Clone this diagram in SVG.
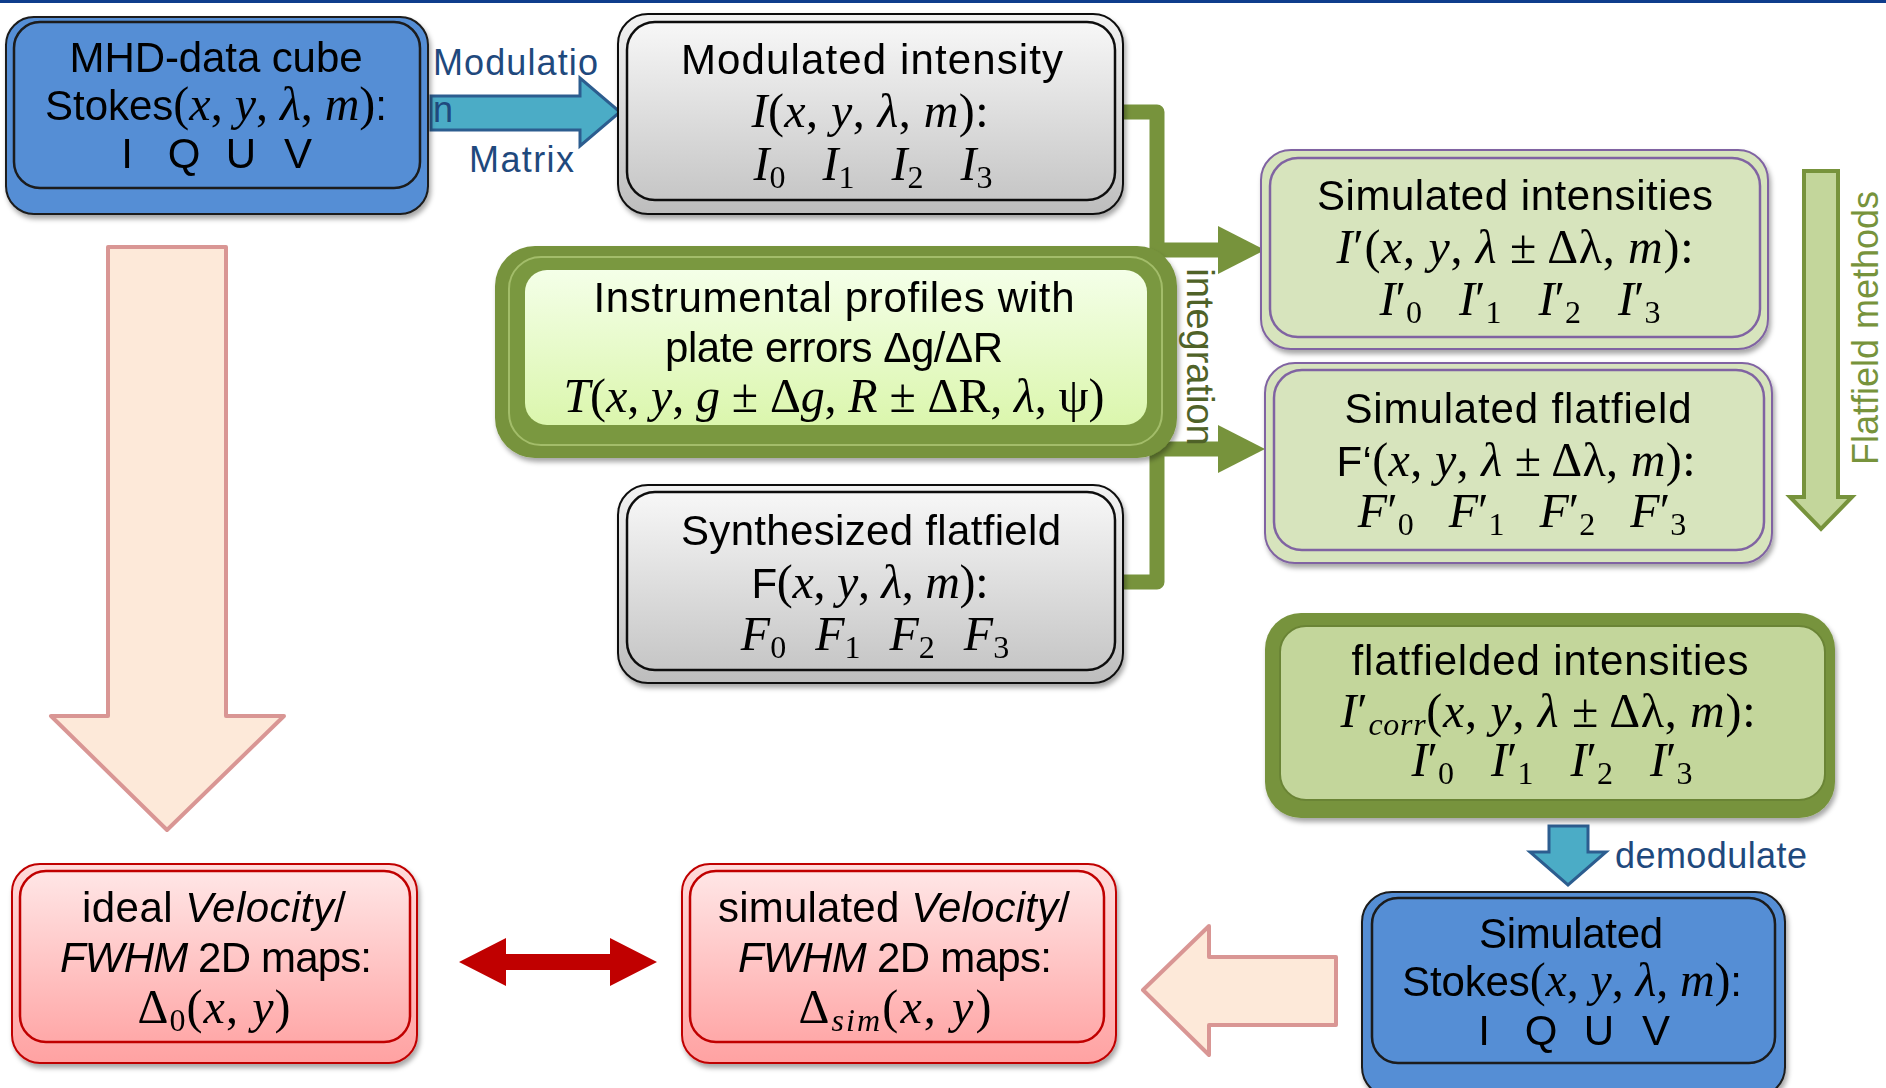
<svg xmlns="http://www.w3.org/2000/svg" width="1886" height="1088" viewBox="0 0 1886 1088">
<defs>
<style>
.t{font-family:"Liberation Sans",Arial,sans-serif;font-size:42px;fill:#000;text-anchor:middle}
.m{font-family:"Liberation Serif","Times New Roman",serif;font-size:48px;fill:#000;text-anchor:middle}
.s{font-family:"Liberation Sans",Arial,sans-serif}
.u{font-family:"Liberation Serif","Times New Roman",serif;font-style:normal}
.v{font-family:"Liberation Serif","Times New Roman",serif;font-style:italic}
.it{font-style:italic}
.sb{font-family:"Liberation Serif","Times New Roman",serif;font-size:32px;font-style:normal}
.lbl{font-family:"Liberation Sans",Arial,sans-serif;font-size:36px;fill:#1f497d}
.blueO{fill:#558ed5;stroke:#1a1a1a;stroke-width:2}
.blueI{fill:#558ed5;stroke:#1a1a1a;stroke-width:2.5}
.grayO{fill:url(#gGrayO);stroke:#111;stroke-width:2}
.grayI{fill:url(#gGray);stroke:#111;stroke-width:2.5}
.olO{fill:#d7e4bd;stroke:#8064a2;stroke-width:2}
.olI{fill:#d7e4bd;stroke:#8064a2;stroke-width:2.5}
.pkO{fill:url(#gPinkO);stroke:#c00000;stroke-width:2}
.pkI{fill:url(#gPink);stroke:#c00000;stroke-width:2.5}
.conn{fill:none;stroke:#77933c;stroke-width:15;stroke-linejoin:round}
.gh{fill:#77933c}
.tealA{fill:#4bacc6;stroke:#2c5d8f;stroke-width:3;stroke-linejoin:miter}
.peach{fill:#fde9d9;stroke:#d99694;stroke-width:4;stroke-linejoin:round}
</style>
<linearGradient id="gGray" x1="0" y1="0" x2="0" y2="1"><stop offset="0" stop-color="#f7f7f7"/><stop offset="1" stop-color="#c6c6c6"/></linearGradient>
<linearGradient id="gGrayO" x1="0" y1="0" x2="0" y2="1"><stop offset="0" stop-color="#f2f2f2"/><stop offset="1" stop-color="#bdbdbd"/></linearGradient>
<linearGradient id="gInst" x1="0" y1="0" x2="0" y2="1"><stop offset="0" stop-color="#f4ffe8"/><stop offset="1" stop-color="#dbf6ad"/></linearGradient>
<linearGradient id="gPink" x1="0" y1="0" x2="0" y2="1"><stop offset="0" stop-color="#ffe6e6"/><stop offset="1" stop-color="#ffa8a8"/></linearGradient>
<linearGradient id="gPinkO" x1="0" y1="0" x2="0" y2="1"><stop offset="0" stop-color="#ffdcdc"/><stop offset="1" stop-color="#ffa2a2"/></linearGradient>
<filter id="sh" x="-5%" y="-5%" width="112%" height="118%"><feDropShadow dx="2" dy="4" stdDeviation="2.5" flood-color="#000" flood-opacity="0.35"/></filter>
</defs>
<rect x="0" y="0" width="1886" height="1088" fill="#fff"/>
<rect x="0" y="0" width="1886" height="3" fill="#0f3d8c"/>

<g id="connectors">
  <polygon class="tealA" points="431,96 580,96 580,78 620,112 580,146 580,130 431,130"/>
  <path class="conn" d="M1123,112 H1157 V582 H1123"/>
  <path class="conn" d="M1157,250 H1224"/>
  <polygon class="gh" points="1218,226 1265,250 1218,274"/>
  <path class="conn" d="M1157,449 H1224"/>
  <polygon class="gh" points="1218,425 1265,449 1218,473"/>
  <polygon points="1804,171 1838,171 1838,497 1852,497 1821,529 1790,497 1804,497" fill="#c3d69b" stroke="#77933c" stroke-width="4" stroke-linejoin="miter"/>
  <polygon class="tealA" points="1549,826 1588,826 1588,852 1606,852 1568,885 1530,852 1549,852"/>
  <polygon class="peach" points="108,247 226,247 226,716 284,716 167,830 51,716 108,716"/>
  <polygon class="peach" points="1336,957 1209,957 1209,926 1143,990 1209,1055 1209,1025 1336,1025"/>
  <polygon fill="#c00000" points="459,962 506,938 506,954 610,954 610,938 657,962 610,986 610,970 506,970 506,986"/>
  <text class="lbl" x="433" y="75" textLength="165" lengthAdjust="spacing">Modulatio</text>
  <text class="lbl" x="433" y="122">n</text>
  <text class="lbl" x="469" y="172" textLength="105" lengthAdjust="spacing">Matrix</text>
  <text class="lbl" x="1615" y="868" textLength="192" lengthAdjust="spacing">demodulate</text>
  <text class="s" font-size="36" fill="#77933c" text-anchor="middle" transform="translate(1878,328) rotate(-90)">Flatfield methods</text>
</g>

<g id="mhd" filter="url(#sh)">
  <rect class="blueO" x="6" y="17" width="422" height="197" rx="28"/>
  <rect class="blueI" x="14" y="22" width="406" height="166" rx="26"/>
  <text class="t" x="216" y="72" textLength="293" lengthAdjust="spacing">MHD-data cube</text>
  <text class="t" x="216" y="120" textLength="342" lengthAdjust="spacing">Stokes<tspan class="u" font-size="48">(</tspan><tspan class="v" font-size="48">x</tspan><tspan class="u" font-size="48">, </tspan><tspan class="v" font-size="48">y</tspan><tspan class="u" font-size="48">, </tspan><tspan class="v" font-size="48">λ</tspan><tspan class="u" font-size="48">, </tspan><tspan class="v" font-size="48">m</tspan><tspan class="u" font-size="48">)</tspan>:</text>
  <text class="t" x="127" y="168">I</text><text class="t" x="184" y="168">Q</text><text class="t" x="241" y="168">U</text><text class="t" x="298" y="168">V</text>
</g>

<g id="modulated" filter="url(#sh)">
  <rect class="grayO" x="618" y="14" width="505" height="200" rx="30"/>
  <rect class="grayI" x="627" y="22" width="488" height="178" rx="28"/>
  <text class="t" x="872" y="74" textLength="382" lengthAdjust="spacing">Modulated intensity</text>
  <text class="m" x="870" y="127" textLength="237" lengthAdjust="spacing"><tspan class="v">I</tspan>(<tspan class="v">x</tspan>, <tspan class="v">y</tspan>, <tspan class="v">λ</tspan>, <tspan class="v">m</tspan>):</text>
  <text class="m" x="873" y="180"><tspan class="v">I</tspan><tspan class="sb" dy="8">0</tspan><tspan class="v" dy="-8" dx="37">I</tspan><tspan class="sb" dy="8">1</tspan><tspan class="v" dy="-8" dx="37">I</tspan><tspan class="sb" dy="8">2</tspan><tspan class="v" dy="-8" dx="37">I</tspan><tspan class="sb" dy="8">3</tspan></text>
</g>

<g id="instrumental" filter="url(#sh)">
  <rect x="495" y="246" width="682" height="212" rx="40" fill="#77933c"/>
  <rect x="509" y="257" width="653" height="188" rx="32" fill="#7a9840" stroke="#a3bd6a" stroke-width="2"/>
  <rect x="525" y="270" width="622" height="155" rx="22" fill="url(#gInst)"/>
  <text class="t" x="834" y="312" textLength="481" lengthAdjust="spacing">Instrumental profiles with</text>
  <text class="t" x="834" y="362" textLength="338" lengthAdjust="spacing">plate errors Δg/ΔR</text>
  <text class="m" x="834" y="412" textLength="541" lengthAdjust="spacing"><tspan class="v">T</tspan>(<tspan class="v">x</tspan>, <tspan class="v">y</tspan>, <tspan class="v">g</tspan> ± Δ<tspan class="v">g</tspan>, <tspan class="v">R</tspan> ± ΔR, <tspan class="v">λ</tspan>, ψ)</text>
</g>

<g id="synthesized" filter="url(#sh)">
  <rect class="grayO" x="618" y="485" width="505" height="198" rx="30"/>
  <rect class="grayI" x="627" y="492" width="488" height="178" rx="28"/>
  <text class="t" x="871" y="545" textLength="380" lengthAdjust="spacing">Synthesized flatfield</text>
  <text class="m" x="870" y="598" textLength="237" lengthAdjust="spacing"><tspan class="s" font-size="42">F</tspan>(<tspan class="v">x</tspan>, <tspan class="v">y</tspan>, <tspan class="v">λ</tspan>, <tspan class="v">m</tspan>):</text>
  <text class="m" x="875" y="650"><tspan class="v">F</tspan><tspan class="sb" dy="8">0</tspan><tspan class="v" dy="-8" dx="29">F</tspan><tspan class="sb" dy="8">1</tspan><tspan class="v" dy="-8" dx="29">F</tspan><tspan class="sb" dy="8">2</tspan><tspan class="v" dy="-8" dx="29">F</tspan><tspan class="sb" dy="8">3</tspan></text>
</g>

<g id="integration-label">
  <text class="s" font-size="38" fill="#4f6228" text-anchor="middle" transform="translate(1187,357) rotate(90)">integration</text>
</g>

<g id="sim-intensities" filter="url(#sh)">
  <rect class="olO" x="1261" y="150" width="507" height="199" rx="30"/>
  <rect class="olI" x="1270" y="158" width="490" height="179" rx="28"/>
  <text class="t" x="1515" y="210" textLength="396" lengthAdjust="spacing">Simulated intensities</text>
  <text class="m" x="1515" y="263" textLength="357" lengthAdjust="spacing"><tspan class="v">I</tspan>′(<tspan class="v">x</tspan>, <tspan class="v">y</tspan>, <tspan class="v">λ</tspan> ± Δλ, <tspan class="v">m</tspan>):</text>
  <text class="m" x="1520" y="315"><tspan class="v">I</tspan>′<tspan class="sb" dy="8">0</tspan><tspan class="v" dy="-8" dx="37">I</tspan>′<tspan class="sb" dy="8">1</tspan><tspan class="v" dy="-8" dx="37">I</tspan>′<tspan class="sb" dy="8">2</tspan><tspan class="v" dy="-8" dx="37">I</tspan>′<tspan class="sb" dy="8">3</tspan></text>
</g>

<g id="sim-flatfield" filter="url(#sh)">
  <rect class="olO" x="1265" y="363" width="507" height="200" rx="30"/>
  <rect class="olI" x="1274" y="370" width="490" height="180" rx="28"/>
  <text class="t" x="1518" y="423" textLength="347" lengthAdjust="spacing">Simulated flatfield</text>
  <text class="m" x="1516" y="476" textLength="359" lengthAdjust="spacing"><tspan class="s" font-size="42">F‘</tspan>(<tspan class="v">x</tspan>, <tspan class="v">y</tspan>, <tspan class="v">λ</tspan> ± Δλ, <tspan class="v">m</tspan>):</text>
  <text class="m" x="1522" y="527"><tspan class="v">F</tspan>′<tspan class="sb" dy="8">0</tspan><tspan class="v" dy="-8" dx="35">F</tspan>′<tspan class="sb" dy="8">1</tspan><tspan class="v" dy="-8" dx="35">F</tspan>′<tspan class="sb" dy="8">2</tspan><tspan class="v" dy="-8" dx="35">F</tspan>′<tspan class="sb" dy="8">3</tspan></text>
</g>

<g id="flatfielded" filter="url(#sh)">
  <rect x="1265" y="613" width="570" height="205" rx="36" fill="#77933c"/>
  <rect x="1280" y="626" width="545" height="174" rx="26" fill="#c3d69b" stroke="#6a8435" stroke-width="2"/>
  <text class="t" x="1550" y="675" textLength="397" lengthAdjust="spacing">flatfielded intensities</text>
  <text class="m" x="1548" y="727" textLength="415" lengthAdjust="spacing"><tspan class="v">I</tspan>′<tspan class="v" font-size="32" dy="8">corr</tspan><tspan dy="-8">(</tspan><tspan class="v">x</tspan>, <tspan class="v">y</tspan>, <tspan class="v">λ</tspan> ± Δλ, <tspan class="v">m</tspan>):</text>
  <text class="m" x="1552" y="776"><tspan class="v">I</tspan>′<tspan class="sb" dy="8">0</tspan><tspan class="v" dy="-8" dx="37">I</tspan>′<tspan class="sb" dy="8">1</tspan><tspan class="v" dy="-8" dx="37">I</tspan>′<tspan class="sb" dy="8">2</tspan><tspan class="v" dy="-8" dx="37">I</tspan>′<tspan class="sb" dy="8">3</tspan></text>
</g>

<g id="sim-stokes" filter="url(#sh)">
  <rect class="blueO" x="1362" y="892" width="423" height="205" rx="30"/>
  <rect class="blueI" x="1372" y="898" width="403" height="165" rx="26"/>
  <text class="t" x="1571" y="948" textLength="184" lengthAdjust="spacing">Simulated</text>
  <text class="t" x="1572" y="996" textLength="340" lengthAdjust="spacing">Stokes<tspan class="u" font-size="48">(</tspan><tspan class="v" font-size="48">x</tspan><tspan class="u" font-size="48">, </tspan><tspan class="v" font-size="48">y</tspan><tspan class="u" font-size="48">, </tspan><tspan class="v" font-size="48">λ</tspan><tspan class="u" font-size="48">, </tspan><tspan class="v" font-size="48">m</tspan><tspan class="u" font-size="48">)</tspan>:</text>
  <text class="t" x="1484" y="1045">I</text><text class="t" x="1541" y="1045">Q</text><text class="t" x="1599" y="1045">U</text><text class="t" x="1656" y="1045">V</text>
</g>

<g id="ideal-maps" filter="url(#sh)">
  <rect class="pkO" x="12" y="864" width="405" height="199" rx="28"/>
  <rect class="pkI" x="20" y="871" width="390" height="171" rx="26"/>
  <text class="t" x="214" y="922" textLength="264" lengthAdjust="spacing">ideal <tspan class="it">Velocity</tspan>/</text>
  <text class="t" x="216" y="972" textLength="312" lengthAdjust="spacing"><tspan class="it">FWHM</tspan> 2D maps:</text>
  <text class="m" x="214" y="1023" textLength="153" lengthAdjust="spacing">Δ<tspan class="sb" dy="8">0</tspan><tspan dy="-8">(</tspan><tspan class="v">x</tspan>, <tspan class="v">y</tspan>)</text>
</g>

<g id="sim-maps" filter="url(#sh)">
  <rect class="pkO" x="682" y="864" width="434" height="199" rx="28"/>
  <rect class="pkI" x="690" y="871" width="414" height="171" rx="26"/>
  <text class="t" x="894" y="922" textLength="352" lengthAdjust="spacing">simulated <tspan class="it">Velocity</tspan>/</text>
  <text class="t" x="895" y="972" textLength="314" lengthAdjust="spacing"><tspan class="it">FWHM</tspan> 2D maps:</text>
  <text class="m" x="895" y="1023" textLength="193" lengthAdjust="spacing">Δ<tspan class="v" font-size="32" dy="8">sim</tspan><tspan dy="-8">(</tspan><tspan class="v">x</tspan>, <tspan class="v">y</tspan>)</text>
</g>
</svg>
